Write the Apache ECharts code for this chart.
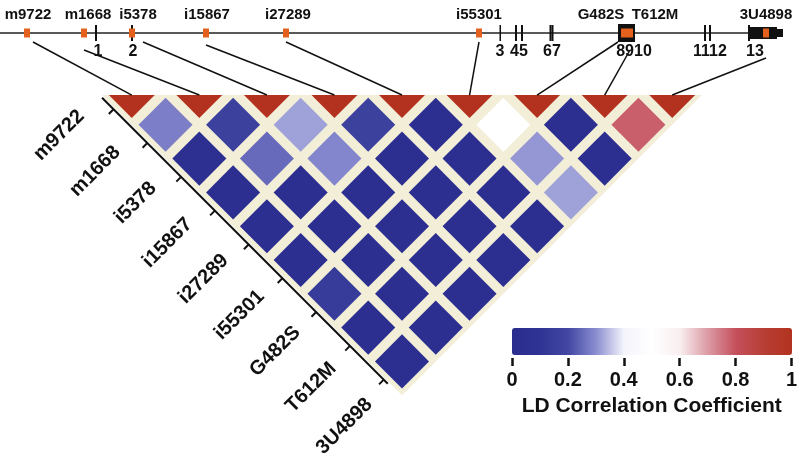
<!DOCTYPE html>
<html>
<head>
<meta charset="utf-8">
<script src="https://cdn.jsdelivr.net/npm/echarts@6/dist/echarts.min.js"></script>
<style>
  html, body { margin: 0; padding: 0; background: #fff; }
  #el { width: 800px; height: 462px; }
</style>
</head>
<body>
<div id="el"></div>
<script>
// markers in gene order
const markers = ['m9722', 'm1668', 'i5378', 'i15867', 'i27289', 'i55301', 'G482S', 'T612M', '3U4898'];
// marker position on the gene drawing (scaled gene coordinate)
const markerPos = [27, 84, 132, 206, 286, 479, 624, 630, 766];
const markerLabelPos = [28, 88, 138, 207, 288, 479, 601, 655, 766];
// gene structure
const geneSpan = [0, 783];
const exonStart = [95, 131, 499.5, 515, 521, 549.5, 551.5, 618, 623, 631, 704, 709, 748];
const exonEnd   = [97, 133, 501, 517, 523, 551.5, 553.5, 623, 631, 635, 706, 711, 783];
const cdsEnd = 777;
const exonLabels = ['1', '2', '3', '45', '67', '8910', '1112', '13'];
const exonLabelPos = [98, 133, 500, 519, 552, 634, 710, 755];
// LD correlation, upper triangle: row i holds pairs (i, i+1), (i, i+2) ...
const ldRows = [
  [0.28, 0.05, 0.03, 0.03, 0.03, 0.14, 0.03, 0.03],
  [0.17, 0.25, 0.03, 0.03, 0.03, 0.03, 0.03],
  [0.32, 0.29, 0.03, 0.03, 0.03, 0.03],
  [0.17, 0.03, 0.03, 0.03, 0.03],
  [0.04, 0.03, 0.03, 0.03],
  [0.50, 0.31, 0.32],
  [0.03, 0.04],
  [0.78]
];
const scaleTicks = [0, 0.2, 0.4, 0.6, 0.8, 1];

const FONT = '"Liberation Sans", Arial, sans-serif';
const cut = 0.06;      // top edge of the triangle, in cell units
const half = 0.4;      // half diagonal of one diamond

let cells = [];
for (let i = 0; i < markers.length; i++) {
  cells.push([i, i, 1]);
  ldRows[i] && ldRows[i].forEach((v, k) => cells.push([i, i + k + 1, v]));
}

let myChart = echarts.init(document.getElementById('el'));

function renderGene(params, api) {
  const y0 = api.coord([0, 0])[1];
  const a = api.coord([api.value(0), 0]);
  const b = api.coord([api.value(1), 0]);
  return { type: 'line', shape: { x1: a[0], y1: y0, x2: b[0], y2: y0 },
    style: { stroke: '#222', lineWidth: 1.5 } };
}

function renderExon(params, api) {
  const k = params.dataIndex;
  const a = api.coord([api.value(0), 0]);
  const b = api.coord([api.value(1), 0]);
  const y = a[1];
  let h = 16;
  if (k >= 7 && k <= 9) h = 18;
  if (k === 12) {
    const c = api.coord([cdsEnd, 0]);
    return { type: 'group', children: [
      { type: 'rect', shape: { x: a[0], y: y - 8, width: 2, height: 16 }, style: { fill: '#111' } },
      { type: 'rect', shape: { x: a[0], y: y - 6, width: c[0] - a[0], height: 12 }, style: { fill: '#111' } },
      { type: 'rect', shape: { x: c[0], y: y - 4, width: b[0] - c[0], height: 8 }, style: { fill: '#111' } }
    ] };
  }
  return { type: 'rect', shape: { x: a[0], y: y - h / 2, width: Math.max(b[0] - a[0], 1.5), height: h },
    style: { fill: '#111' } };
}

function renderExonLabel(params, api) {
  const p = api.coord([api.value(0), 0]);
  return { type: 'text', x: p[0], y: p[1] + 19,
    style: { text: exonLabels[params.dataIndex], fill: '#111', fontSize: 16, fontWeight: 'bold',
      fontFamily: FONT, align: 'center', verticalAlign: 'middle' } };
}

function renderSnp(params, api) {
  const k = params.dataIndex;
  const p = api.coord([api.value(0), 0]);
  const l = api.coord([markerLabelPos[k], 0]);
  return { type: 'group', children: [
    { type: 'rect', shape: { x: p[0] - 3, y: p[1] - 4.5, width: 6, height: 9 }, style: { fill: '#e4611d' } },
    { type: 'text', x: l[0], y: p[1] - 18,
      style: { text: markers[k], fill: '#111', fontSize: 15, fontWeight: 'bold', fontFamily: FONT,
        align: 'center', verticalAlign: 'middle' } }
  ] };
}

function renderBack(params, api) {
  const n = markers.length;
  const pts = [[cut, cut], [n - cut, cut], [n / 2, n / 2]].map(p => api.coord(p));
  return { type: 'polygon', shape: { points: pts }, style: { fill: '#f3eed8' } };
}

function renderCell(params, api) {
  const i = api.value(0), j = api.value(1);
  const cx = (i + j + 1) / 2, cy = (j - i) / 2;
  let pts;
  if (i === j) {
    pts = [[cx - half + cut, cut], [cx + half - cut, cut], [cx, cy + half]];
  } else {
    pts = [[cx, cy - half], [cx + half, cy], [cx, cy + half], [cx - half, cy]];
  }
  return { type: 'polygon', shape: { points: pts.map(p => api.coord(p)) },
    style: { fill: api.visual('color') } };
}

// point along the lower-left edge: t along the edge, off = outward distance
function edgePt(api, t, off) {
  return api.coord([t - off, t + off]);
}

function renderEdge(params, api) {
  const j = params.dataIndex;
  const children = [];
  if (j === 0) {
    const s = edgePt(api, 0.08, 0.02), e = edgePt(api, 4.31, 0.02);
    children.push({ type: 'line', shape: { x1: s[0], y1: s[1], x2: e[0], y2: e[1] },
      style: { stroke: '#111', lineWidth: 2 } });
  }
  const tt = 0.25 + 0.5 * j;
  const a = edgePt(api, tt, 0.02), b = edgePt(api, tt, 0.09);
  children.push({ type: 'line', shape: { x1: a[0], y1: a[1], x2: b[0], y2: b[1] },
    style: { stroke: '#111', lineWidth: 2 } });
  const lp = edgePt(api, 0.04 + 0.533 * j, 0.289);
  children.push({ type: 'text', x: lp[0], y: lp[1], rotation: Math.PI / 4,
    style: { text: markers[j], fill: '#111', fontSize: 20, fontWeight: 'bold', fontFamily: FONT,
      align: 'right', verticalAlign: 'middle' } });
  return { type: 'group', children: children };
}

const linkDx = { m9722: 6, i5378: 11, G482S: -6 };
const linkDy = { m1668: 17, i15867: 12, T612M: 17, '3U4898': 25 };

function renderLink(params, api) {
  const k = api.value(0);
  const name = markers[k];
  const s = myChart.convertToPixel({ gridIndex: 0 }, [markerPos[k] + (linkDx[name] || 0), 0]);
  const e = api.coord([k + 0.5, cut]);
  return { type: 'line', shape: { x1: s[0], y1: s[1] + (linkDy[name] || 9), x2: e[0], y2: e[1] },
    style: { stroke: '#111', lineWidth: 1.5 } };
}

let option = {
  animation: false,
  grid: [
    { left: 0, width: 800, top: 0, height: 66 },
    { left: 98, width: 608, top: 91, height: 338 },
    { left: 512, width: 280, top: 328, height: 30 }
  ],
  xAxis: [
    { gridIndex: 0, type: 'value', min: 0, max: 800, show: false },
    { gridIndex: 1, type: 'value', min: 0, max: 9, show: false },
    { gridIndex: 2, type: 'value', min: 0, max: 1, interval: 0.2,
      axisLine: { show: false }, splitLine: { show: false },
      axisTick: { show: true, length: 8, lineStyle: { color: '#111', width: 2.5 } },
      axisLabel: { margin: 12, color: '#111', fontSize: 20, fontWeight: 'bold', fontFamily: FONT,
        showMinLabel: true, showMaxLabel: true,
        formatter: v => (scaleTicks.indexOf(+v.toFixed(1)) >= 0 ? String(+v.toFixed(1)) : '') },
      name: 'LD Correlation Coefficient', nameLocation: 'middle', nameGap: 38,
      nameTextStyle: { color: '#111', fontSize: 21, fontWeight: 'bold', fontFamily: FONT } }
  ],
  yAxis: [
    { gridIndex: 0, type: 'value', min: -1, max: 1, show: false },
    { gridIndex: 1, type: 'value', min: 0, max: 5, inverse: true, show: false },
    { gridIndex: 2, type: 'value', min: 0, max: 1, show: false }
  ],
  visualMap: {
    type: 'continuous', min: 0, max: 1, dimension: 2, seriesIndex: 5,
    orient: 'horizontal', left: 512, top: 328, itemWidth: 27, itemHeight: 280,
    padding: 0, calculable: false, showLabel: false, text: null,
    inRange: { color: ['#2a2d8e', '#2f3393', '#4347a3', '#8a8dd0', '#f4f4fb', '#ffffff',
      '#f8eef0', '#dc9aa4', '#c4505c', '#b73e34', '#b3321f'] }
  },
  series: [
    { id: 'gene', type: 'custom', xAxisIndex: 0, yAxisIndex: 0, renderItem: renderGene, data: [geneSpan] },
    { id: 'exons', type: 'custom', xAxisIndex: 0, yAxisIndex: 0, renderItem: renderExon,
      data: exonStart.map((s, k) => [s, exonEnd[k]]) },
    { id: 'exonLabels', type: 'custom', xAxisIndex: 0, yAxisIndex: 0, renderItem: renderExonLabel,
      data: exonLabelPos.map(p => [p, 0]) },
    { id: 'snps', type: 'custom', xAxisIndex: 0, yAxisIndex: 0, renderItem: renderSnp,
      data: markerPos.map(p => [p, 0]) },
    { id: 'back', type: 'custom', xAxisIndex: 1, yAxisIndex: 1, renderItem: renderBack, data: [[0, 0]] },
    { id: 'ld', type: 'custom', xAxisIndex: 1, yAxisIndex: 1, renderItem: renderCell, data: cells },
    { id: 'edge', type: 'custom', xAxisIndex: 1, yAxisIndex: 1, renderItem: renderEdge,
      data: markers.map((m, k) => [k, k]) },
    { id: 'links', type: 'custom', xAxisIndex: 1, yAxisIndex: 1, renderItem: renderLink, data: [] }
  ]
};

myChart.setOption(option);
// connectors need both grids laid out, so add them afterwards
myChart.setOption({ series: [{ id: 'links', data: markers.map((m, k) => [k, 0]) }] });
</script>
</body>
</html>
